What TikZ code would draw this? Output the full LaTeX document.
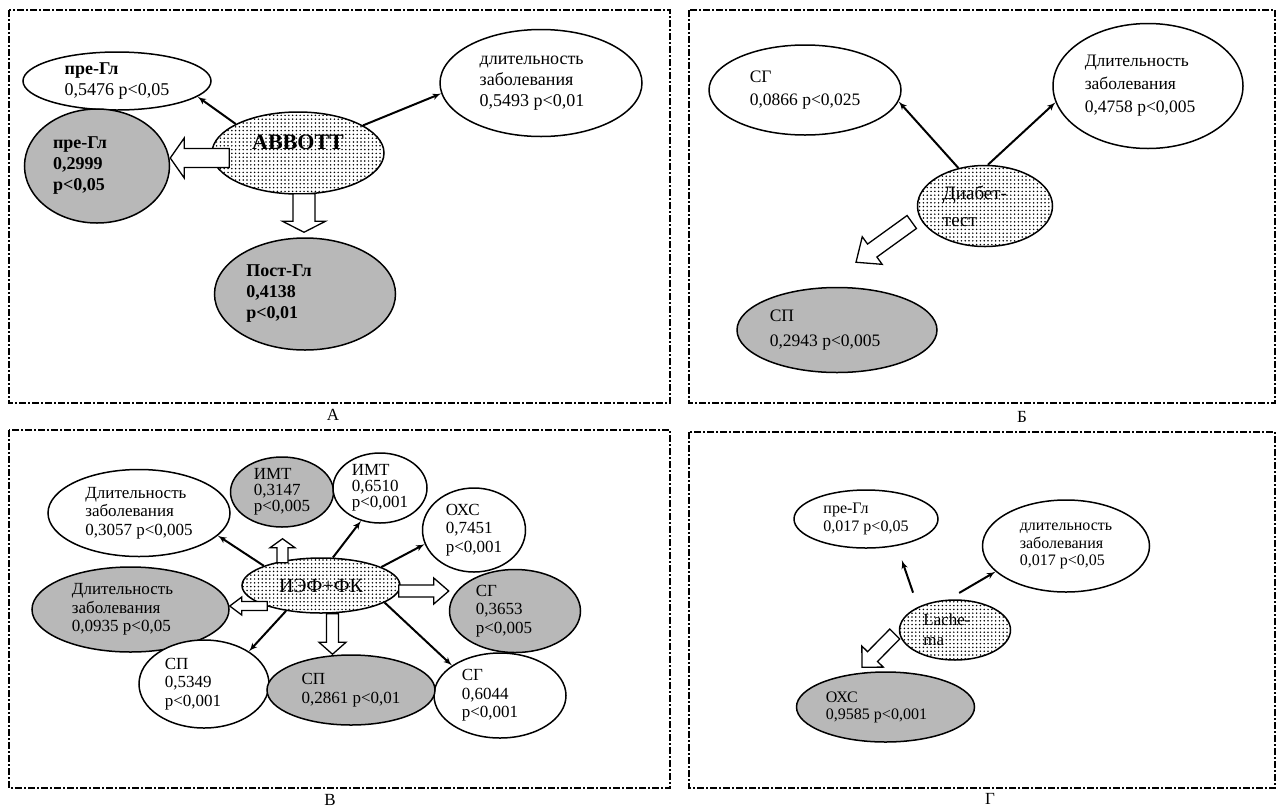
\documentclass[tikz,border=0pt]{standalone}
\usepackage{fontspec}
\setmainfont{Liberation Serif}
\usetikzlibrary{shapes,arrows,calc,patterns.meta}
\tikzstyle{plain} = [ellipse, draw, line width=1.5pt, fill=white,
    align=left, inner sep=-25pt]
\tikzstyle{shaded} = [plain, fill=black!28]
\tikzstyle{speckled} = [plain, preaction={fill=white},
    pattern={Dots[distance=3.8pt,radius=0.85pt]}]
\tikzstyle{line} = [draw, line width=2pt, -latex']
\tikzstyle{hollow} = [draw, fill=white, line width=1.3pt, line join=miter]
\tikzstyle{frame} = [draw, line width=1.4pt, dash pattern=on 7pt off 2pt on 2pt off 2pt]
\tikzstyle{txta} = [font=\fontsize{18}{21}\selectfont]
\tikzstyle{txtab} = [font=\fontsize{18}{21}\selectfont\bfseries]
\tikzstyle{txtb} = [font=\fontsize{17.5}{23}\selectfont]
\tikzstyle{txtc} = [font=\fontsize{17}{18.5}\selectfont]
\tikzstyle{txtd} = [font=\fontsize{16}{17.5}\selectfont]

% trailing pad, moves a text block to the left inside its ellipse
\newcommand{\pad}[1]{\hspace*{#1pt}}

% hollow block arrow: start, tip, shaft half width, head half width, head length
\newcommand{\fatarrow}[5]{%
  \coordinate (fa-s) at (#1);
  \coordinate (fa-e) at (#2);
  \coordinate (fa-h) at ($(fa-e)!#5!(fa-s)$);
  \path[hollow] ($(fa-s)!#3!90:(fa-e)$) -- ($(fa-h)!#3!90:(fa-e)$)
    -- ($(fa-h)!#4!90:(fa-e)$) -- (fa-e) -- ($(fa-h)!#4!-90:(fa-e)$)
    -- ($(fa-h)!#3!-90:(fa-e)$) -- ($(fa-s)!#3!-90:(fa-e)$) -- cycle;
}

\begin{document}
\begin{tikzpicture}[x=1pt, y=-1pt]
\useasboundingbox (0,0) rectangle (1280,807);

% frames
\draw[frame] (9,10) rectangle (670,403);
\draw[frame] (689,10) rectangle (1275,403);
\draw[frame] (9,430) rectangle (670,788);
\draw[frame] (689,432) rectangle (1275,788);
\node[txtc] (lbla) at (333,415) {А};
\node[txtc] (lblb) at (1022,417) {Б};
\node[txtc] (lblc) at (330,800) {В};
\node[txtc] (lbld) at (990,799) {Г};

% A
\node[plain, txta, minimum width=188, minimum height=58] (a-pre1) at (117,81)
    {\textbf{пре-Гл}\\0,5476 p<0,05};
\node[shaded, txtab, minimum width=145, minimum height=114] (a-pre2) at (97,166)
    {пре-Гл\\0,2999\\p<0,05\pad{36}};
\node[speckled, font=\fontsize{22}{24}\selectfont\bfseries, minimum width=172, minimum height=82] (abbott) at (298,153)
    {\raisebox{22pt}{ABBOTT}};
\node[plain, txta, minimum width=202, minimum height=107] (a-dur) at (541,83)
    {длительность\pad{18}\\заболевания\\0,5493 p<0,01\pad{18}};
\node[shaded, txtab, minimum width=181, minimum height=112] (a-post) at (305,294)
    {Пост-Гл\pad{52}\\0,4138\\p<0,01};

\path[line] (abbott.155) -- (a-pre1.-11);
\path[line] (abbott.23) -- (a-dur.-174);
\fatarrow{$(abbott.west)+(18,5)$}{a-pre2.east |- fa-s}{9.5pt}{20pt}{14pt}
\fatarrow{$(abbott.south)+(6,-1)$}{$(a-post.north)+(-1,-5)$}{11pt}{21.5pt}{11pt}

% B
\node[plain, txtb, minimum width=192, minimum height=90] (b-sg) at (805,90)
    {СГ\\0,0866 p<0,025};
\node[plain, txtb, minimum width=190, minimum height=125] (b-dur) at (1148,86)
    {Длительность\\заболевания\\0,4758 p<0,005\pad{16}};
\node[speckled, font=\fontsize{19}{27}\selectfont, minimum width=135, minimum height=81] (diab) at (985,206)
    {Диабет-\pad{20}\\тест};
\node[shaded, font=\fontsize{17.5}{25}\selectfont, minimum width=200, minimum height=85] (b-sp) at (837,330)
    {СП\\0,2943 p<0,005\pad{24}};

\path[line] (diab.125) -- (b-sg.-7);
\path[line] (diab.86) -- (b-dur.-170);
\fatarrow{$(diab.west)+(-5,16)$}{$(b-sp.north)+(19,-24.5)$}{8pt}{17pt}{20pt}

% C
\node[plain, txtc, minimum width=182, minimum height=87] (c-dur1) at (139,513)
    {Длительность\\заболевания\\0,3057 p<0,005};
\node[shaded, font=\fontsize{17}{16}\selectfont, minimum width=103, minimum height=70] (c-imt1) at (282,492)
    {ИМТ\\0,3147\\p<0,005};
\node[plain, font=\fontsize{17}{16}\selectfont, minimum width=94, minimum height=70] (c-imt2) at (380,488)
    {ИМТ\\0,6510\\p<0,001};
\node[plain, txtc, minimum width=103, minimum height=84] (c-ohs) at (474,530)
    {ОХС\\0,7451\\p<0,001};
\node[speckled, font=\fontsize{20}{22}\selectfont, minimum width=158, minimum height=55] (iefs) at (321,585.5)
    {ИЭФ+ФК};
\node[shaded, txtc, minimum width=197, minimum height=85] (c-dur2) at (130.5,609.5)
    {Длительность\pad{16}\\заболевания\\0,0935 p<0,05\pad{16}};
\node[shaded, txtc, minimum width=131, minimum height=83] (c-sg1) at (515,611)
    {СГ\\0,3653\\p<0,005\pad{22}};
\node[plain, txtc, minimum width=130, minimum height=88] (c-sp1) at (204,684)
    {СП\\0,5349\\p<0,001\pad{22}};
\node[plain, txtc, minimum width=132, minimum height=85] (c-sg2) at (500,695.5)
    {СГ\\0,6044\\p<0,001\pad{20}};
\node[shaded, txtc, minimum width=168, minimum height=70] (c-sp2) at (351,690)
    {СП\\0,2861 p<0,01};

\path[line] (iefs.161) -- (c-dur1.-16);
\path[line] (iefs.67) -- (c-imt2.-120);
\path[line] (iefs.17) -- (c-ohs.-164);
\path[line] (iefs.-144) -- (c-sp1.36);
\path[line] (iefs.-15) -- (c-sg2.148);
\fatarrow{$(c-imt1.south)+(0.5,35)$}{$(c-imt1.south)+(0.5,11)$}{5.5pt}{12.5pt}{9pt}
\fatarrow{$(iefs.east)+(-2,5.5)$}{c-sg1.west |- fa-s}{6pt}{13pt}{15pt}
\fatarrow{$(iefs.west)+(26,20.5)$}{c-dur2.east |- fa-s}{4.5pt}{9pt}{12pt}
\fatarrow{$(iefs.south)+(11.5,0)$}{c-sp2.north -| fa-s}{6pt}{13.5pt}{12pt}

% D
\node[plain, txtd, minimum width=144, minimum height=58] (d-pre) at (866,519)
    {пре-Гл\\0,017 p<0,05};
\node[plain, txtd, minimum width=167, minimum height=92] (d-dur) at (1066,546)
    {длительность\\заболевания\\0,017 p<0,05};
\node[speckled, font=\fontsize{17}{20}\selectfont, minimum width=111, minimum height=60] (lach) at (955,630)
    {Lache-\pad{16}\\ma};
\node[shaded, font=\fontsize{16}{17}\selectfont, minimum width=178, minimum height=70] (d-ohs) at (885.5,707)
    {ОХС\\0,9585 p<0,001\pad{18}};

\path[line, shorten <=15pt, shorten >=15pt] (lach.148) -- (d-pre.-41);
\path[line, shorten <=13pt] (lach.103) -- (d-dur.-160);
\fatarrow{$(lach.west)+(-4,4)$}{$(d-ohs.north)+(-23.5,-4)$}{7pt}{15pt}{15pt}
\end{tikzpicture}
\end{document}
